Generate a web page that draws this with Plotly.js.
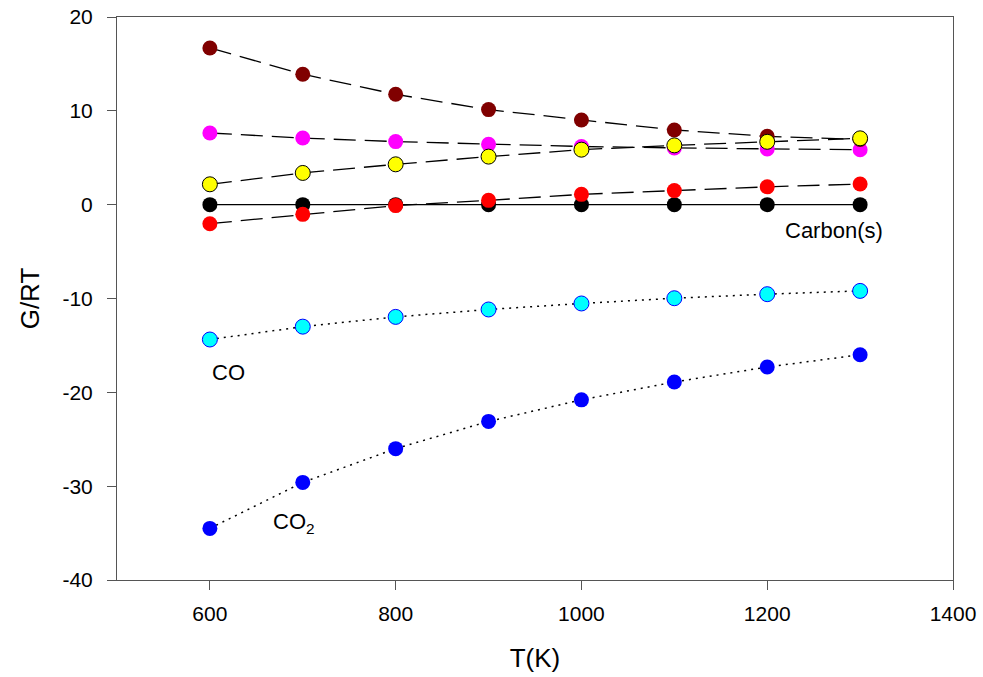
<!DOCTYPE html>
<html>
<head>
<meta charset="utf-8">
<script src="https://cdn.plot.ly/plotly-3.0.1.min.js"></script>
<style>html,body{margin:0;padding:0;background:#fff;}#chart{width:983px;height:677px;}</style>
</head>
<body>
<div id="chart"></div>
<script>
const temperatures = [600, 700, 800, 900, 1000, 1100, 1200, 1300];
const carbonS   = [0, 0, 0, 0, 0, 0, 0, 0];
const co2       = [-34.5, -29.6, -26.0, -23.1, -20.8, -18.9, -17.3, -16.0];
const co        = [-14.37, -13.0, -11.96, -11.17, -10.53, -9.97, -9.54, -9.19];
const magenta   = [7.64, 7.1, 6.72, 6.43, 6.2, 6.05, 5.93, 5.85];
const brown     = [16.7, 13.9, 11.76, 10.13, 9.03, 7.96, 7.28, 6.95];
const red       = [-2.03, -1.03, -0.1, 0.46, 1.1, 1.5, 1.9, 2.2];
const yellow    = [2.17, 3.38, 4.3, 5.12, 5.86, 6.32, 6.7, 7.07];
const xTicks = [600, 800, 1000, 1200, 1400];
const yTicks = [-40, -30, -20, -10, 0, 10, 20];

const dashLong = '22px,9px';
const dotted = '2px,5px';

function tr(y, color, dash, width, outline) {
  return {
    x: temperatures, y: y, type: 'scatter', mode: 'lines+markers',
    line: {color: '#000', dash: dash, width: width},
    marker: {size: 15, color: color, line: {color: outline || color, width: outline ? 1 : 0}},
    hoverinfo: 'skip', showlegend: false
  };
}

const data = [
  tr(carbonS, '#000000', 'solid', 1.3),
  tr(co2, '#0000ff', dotted, 1.5),
  tr(co, '#00ffff', dotted, 1.5, '#0000ff'),
  tr(magenta, '#ff00ff', dashLong, 1.3),
  tr(brown, '#800000', dashLong, 1.3),
  tr(red, '#ff0000', dashLong, 1.3),
  tr(yellow, '#ffff00', dashLong, 1.3, '#000000')
];

const fam = 'Liberation Sans, Arial, sans-serif';

const layout = {
  width: 983, height: 677,
  margin: {l: 117, r: 30, t: 17, b: 97},
  paper_bgcolor: '#fff', plot_bgcolor: '#fff',
  font: {family: fam, color: '#000'},
  xaxis: {
    range: [500, 1400], tickvals: xTicks, ticktext: xTicks.map(String),
    ticks: 'outside', ticklen: 9, tickcolor: '#555', tickwidth: 1,
    ticklabelstandoff: 6,
    showline: true, linecolor: '#555', linewidth: 1, mirror: true,
    showgrid: false, zeroline: false,
    tickfont: {family: fam, size: 21, color: '#000'},
    title: {text: 'T(K)', font: {family: fam, size: 26, color: '#000'}, standoff: 24}
  },
  yaxis: {
    range: [-40, 20], tickvals: yTicks, ticktext: yTicks.map(String),
    ticks: 'outside', ticklen: 9, tickcolor: '#555', tickwidth: 1,
    ticklabelstandoff: 10,
    showline: true, linecolor: '#555', linewidth: 1, mirror: true,
    showgrid: false, zeroline: false,
    tickfont: {family: fam, size: 21, color: '#000'},
    title: {text: 'G/RT', font: {family: fam, size: 26, color: '#000'}, standoff: 15}
  },
  annotations: [
    {x: 1272, y: -2.72, xref: 'x', yref: 'y', text: 'Carbon(s)', showarrow: false,
     font: {family: fam, size: 22, color: '#000'}},
    {x: 619.5, y: -17.86, xref: 'x', yref: 'y', text: 'CO', showarrow: false,
     font: {family: fam, size: 22, color: '#000'}},
    {x: 690.5, y: -33.95, xref: 'x', yref: 'y', text: 'CO<sub>2</sub>', showarrow: false,
     font: {family: fam, size: 22, color: '#000'}}
  ]
};

Plotly.newPlot('chart', data, layout, {displayModeBar: false, staticPlot: true});
</script>
</body>
</html>
